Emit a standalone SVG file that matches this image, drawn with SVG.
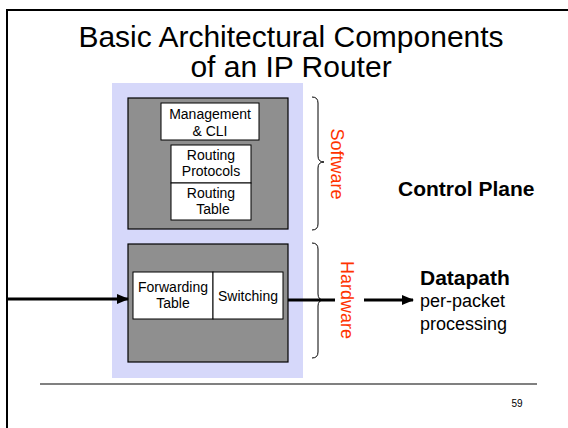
<svg xmlns="http://www.w3.org/2000/svg" width="568" height="428" viewBox="0 0 568 428">
  <style>
    text { font-family: "Liberation Sans", Arial, sans-serif; fill: #000; }
    .title { font-size: 30px; text-anchor: middle; }
    .box { fill: #ffffff; stroke: #000; stroke-width: 1; }
    .chassis { fill: #8f8f8f; stroke: #000; stroke-width: 1.2; }
    .lbl { font-size: 14px; text-anchor: middle; }
    .side { font-size: 18px; fill: #ff3300; text-anchor: middle; }
    .brace { fill: none; stroke: #000; stroke-width: 1; }
    .wire { stroke: #000; stroke-width: 3; fill: none; }
    .head { font-size: 21px; font-weight: bold; }
    .sub { font-size: 18px; }
  </style>
  <defs>
    <marker id="arrow" markerUnits="userSpaceOnUse" markerWidth="12" markerHeight="10" refX="11" refY="5" orient="auto">
      <path d="M0,0 L12,5 L0,10 Z" fill="#000"/>
    </marker>
  </defs>

  <rect width="568" height="428" fill="#ffffff"/>
  <!-- slide frame -->
  <rect x="7" y="10" width="580" height="440" fill="none" stroke="#000" stroke-width="2"/>

  <text class="title" x="291" y="47">Basic Architectural Components</text>
  <text class="title" x="291" y="77">of an IP Router</text>

  <!-- router backdrop -->
  <rect id="router" x="112" y="83" width="191" height="295" fill="#d6d8fa"/>

  <g id="control-chassis">
    <rect class="chassis" x="128" y="98" width="160" height="131"/>
  </g>
  <g id="management">
    <rect class="box" x="161" y="103" width="98" height="37"/>
    <text class="lbl" x="210" y="119">Management</text>
    <text class="lbl" x="210" y="136">&amp; CLI</text>
  </g>
  <g id="routing-protocols">
    <rect class="box" x="171" y="145" width="80" height="38"/>
    <text class="lbl" x="211" y="160">Routing</text>
    <text class="lbl" x="211" y="176">Protocols</text>
  </g>
  <g id="routing-table">
    <rect class="box" x="171" y="183" width="80" height="37"/>
    <text class="lbl" x="211" y="198">Routing</text>
    <text class="lbl" x="213" y="214">Table</text>
  </g>

  <g id="datapath-chassis">
    <rect class="chassis" x="128" y="244" width="160" height="118"/>
  </g>
  <g id="forwarding-table">
    <rect class="box" x="133" y="272" width="80" height="47"/>
    <text class="lbl" x="173" y="292">Forwarding</text>
    <text class="lbl" x="173" y="308">Table</text>
  </g>
  <g id="switching">
    <rect class="box" x="213" y="272" width="70" height="47"/>
    <text class="lbl" x="248" y="301">Switching</text>
  </g>

  <g id="software">
    <path class="brace" d="M312,97 Q318,97 318,103 L318,156 Q318,162 324,162 Q318,162 318,168 L318,224 Q318,230 312,230"/>
    <text class="side" transform="translate(337,164) rotate(90)" x="0" y="6">Software</text>
  </g>
  <g id="hardware">
    <path class="brace" d="M312,243 Q318,243 318,249 L318,294 Q318,300 324,300 Q318,300 318,306 L318,352 Q318,358 312,358"/>
    <text class="side" transform="translate(347,300) rotate(90)" x="0" y="6">Hardware</text>
  </g>

  <g id="control-plane">
    <text class="head" x="398" y="196">Control Plane</text>
  </g>
  <g id="datapath">
    <text class="head" x="420" y="285">Datapath</text>
    <text class="sub" x="420" y="307">per-packet</text>
    <text class="sub" x="420" y="330">processing</text>
  </g>

  <g id="connectors">
    <line class="wire" x1="7" y1="299" x2="128" y2="299" marker-end="url(#arrow)"/>
    <line class="wire" x1="288" y1="300" x2="335" y2="300"/>
    <line class="wire" x1="364" y1="300" x2="413" y2="300" marker-end="url(#arrow)"/>
  </g>

  <line x1="40" y1="384" x2="537" y2="384" stroke="#808080" stroke-width="2"/>
  <text x="517" y="407" font-size="10" text-anchor="middle">59</text>
</svg>
